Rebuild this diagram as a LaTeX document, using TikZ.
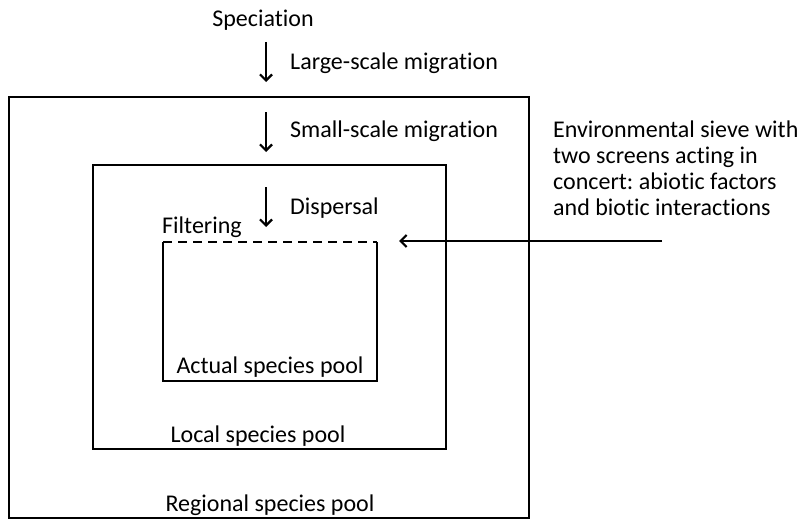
\documentclass[tikz,border=0pt]{standalone}
\usepackage{fontspec}
\setmainfont{Carlito}[Ligatures={NoCommon,NoRare}]
\frenchspacing
\usetikzlibrary{arrows,arrows.meta,positioning}

\begin{document}
\begin{tikzpicture}[x=1pt,y=-1pt,
  pool/.style={draw, line width=2.5pt},
  flow/.style={-{Straight Barb[length=6pt,width=12pt]}, line width=2.2pt},
  lbl/.style={inner sep=0pt, font=\fontsize{24}{26}\selectfont}]
\useasboundingbox (0,0) rectangle (805,519);

% Boxes
\draw[pool] (9,97) rectangle (529,518);
\draw[pool] (93,165) rectangle (446,449);
\draw[pool] (163,242) -- (163,381) -- (377,381) -- (377,242);
\draw[line width=2.5pt, dash pattern=on 9pt off 6pt] (163,242) -- (377,242);

% Labels
\node[lbl, anchor=base] (spec) at (263,27) {Speciation};
\node[lbl, anchor=base west] (large) at (290,70) {Large-scale migration};
\node[lbl, anchor=base west] (small) at (290,137) {Small-scale migration};
\node[lbl, anchor=base west] (disp) at (290,214) {Dispersal};
\node[lbl, anchor=base west] (filt) at (162,233) {Filtering};
\node[lbl, anchor=base] (actual) at (270,373) {Actual species pool};
\node[lbl, anchor=base] (local) at (258,442) {Local species pool};
\node[lbl, anchor=base] (regional) at (270,511) {Regional species pool};
\node[lbl, anchor=north west, align=left] (sieve) at (553,121)
  {Environmental sieve with\\two screens acting in\\concert: abiotic factors\\and biotic interactions};

% Arrows
\coordinate (a1) at (266,42);  \coordinate (b1) at (266,82);
\coordinate (a2) at (266,112); \coordinate (b2) at (266,152);
\coordinate (a3) at (266,187); \coordinate (b3) at (266,227);
\coordinate (s1) at (662,241); \coordinate (s2) at (399,241);
\draw[flow] (a1) -- (b1);
\draw[flow] (a2) -- (b2);
\draw[flow] (a3) -- (b3);
\draw[flow] (s1) -- (s2);
\end{tikzpicture}
\end{document}
